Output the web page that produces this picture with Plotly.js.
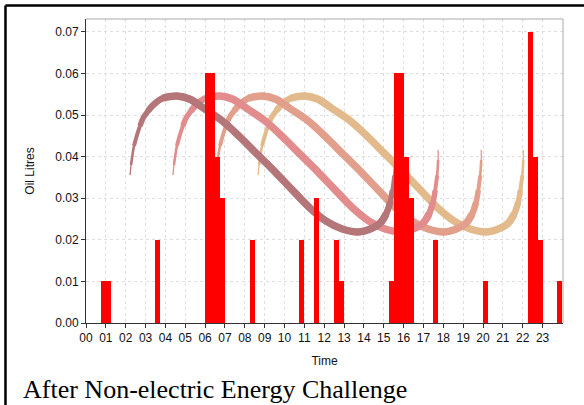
<!DOCTYPE html>
<html>
<head>
<meta charset="utf-8">
<script src="https://cdn.plot.ly/plotly-3.0.1.min.js"></script>
<style>
  html, body { margin: 0; padding: 0; background: #fff; }
  #chart { width: 584px; height: 405px; }
</style>
</head>
<body>
<div id="chart"></div>
<script>
// hour ticks along the bottom
var hourTicks = [0,1,2,3,4,5,6,7,8,9,10,11,12,13,14,15,16,17,18,19,20,21,22,23];
var hourLabels = ['00','01','02','03','04','05','06','07','08','09','10','11',
                  '12','13','14','15','16','17','18','19','20','21','22','23'];
var litreTicks = [0, 0.01, 0.02, 0.03, 0.04, 0.05, 0.06, 0.07];

// 15 minute bins: start hour and litres used
var binStart = [0.75, 1.0, 3.5, 6.0, 6.25, 6.5, 6.75, 8.25, 10.75, 11.5, 12.5, 12.75,
                15.25, 15.5, 15.75, 16.0, 16.25, 17.5, 20.0, 22.25, 22.5, 22.75, 23.75];
var oilLitres = [0.01, 0.01, 0.02, 0.06, 0.06, 0.04, 0.03, 0.02, 0.02, 0.03, 0.02, 0.01,
                 0.01, 0.06, 0.06, 0.04, 0.03, 0.02, 0.01, 0.07, 0.04, 0.02, 0.01];

// background swoosh: one shape (hours from its start, litres), repeated four times
var swooshHours = [0, 0.05, 0.10, 0.20, 0.35, 0.50, 0.66, 0.91, 1.16, 1.66, 2.37, 3.02,
                   3.78, 4.64, 5.54, 6.40, 7.31, 8.17, 9.07, 9.88, 10.69, 11.49, 12.20,
                   12.60, 12.90, 13.10, 13.21, 13.31, 13.36, 13.36];
var swooshLitres = [0.0356, 0.0380, 0.0397, 0.0426, 0.0452, 0.0474, 0.0493, 0.0510, 0.0524,
                    0.0541, 0.0546, 0.0538, 0.0514, 0.0486, 0.0447, 0.0406, 0.0363, 0.0320,
                    0.0276, 0.0245, 0.0226, 0.0219, 0.0228, 0.0240, 0.0262, 0.0290, 0.0319,
                    0.0355, 0.0392, 0.0416];
var swooshStart = [8.67, 6.55, 4.38, 2.22];
var swooshColor = ['rgb(227,186,140)', 'rgb(226,160,140)', 'rgb(226,140,142)', 'rgb(181,118,121)'];

// taper: [points cut from the start, points cut from the end, line width]
var taper = [[0, 0, 1.3], [1, 1, 2.6], [3, 2, 4], [5, 3, 5.5], [7, 4, 6.5], [9, 5, 7.5]];

var traces = [];
swooshStart.forEach(function (s, k) {
    taper.forEach(function (t) {
        var n = swooshHours.length;
        var xs = swooshHours.slice(t[0], n - t[1]).map(function (h) { return h + s; });
        traces.push({
            x: xs,
            y: swooshLitres.slice(t[0], n - t[1]),
            type: 'scatter',
            mode: 'lines',
            line: {color: swooshColor[k], width: t[2], shape: 'spline', smoothing: 1},
            hoverinfo: 'skip',
            xaxis: 'x', yaxis: 'y'
        });
    });
});

traces.push({
    x: binStart,
    y: oilLitres,
    type: 'bar',
    width: 0.25,
    offset: 0,
    marker: {color: '#ff0000', line: {width: 0}},
    xaxis: 'x2', yaxis: 'y2'
});

var tickFont = {family: 'Liberation Sans, Arial, sans-serif', size: 12, color: '#111'};
var xr = [0, 24.03], yr = [0, 0.0731];

var layout = {
    width: 584, height: 405,
    margin: {l: 86, r: 21, t: 19, b: 82},
    paper_bgcolor: '#fff', plot_bgcolor: '#fff',
    showlegend: false,
    bargap: 0,
    xaxis: {
        range: xr, tickvals: hourTicks, ticktext: hourLabels,
        ticks: 'outside', ticklen: 4, tickcolor: '#333',
        showline: true, linecolor: '#333', linewidth: 1,
        showgrid: true, gridcolor: '#dedede', griddash: 'dot', gridwidth: 1,
        zeroline: false, tickfont: tickFont, fixedrange: true,
        title: {text: 'Time', font: {family: 'Liberation Sans, Arial, sans-serif', size: 12, color: '#111'}, standoff: 12}
    },
    yaxis: {
        range: yr, tickvals: litreTicks, tickformat: '.2f',
        ticks: 'outside', ticklen: 4, tickcolor: '#333',
        showline: true, linecolor: '#333', linewidth: 1,
        showgrid: true, gridcolor: '#dedede', griddash: 'dot', gridwidth: 1,
        zeroline: false, tickfont: tickFont, fixedrange: true,
        title: {text: 'Oil Litres', font: {family: 'Liberation Sans, Arial, sans-serif', size: 12, color: '#111'}, standoff: 18}
    },
    xaxis2: {range: xr, overlaying: 'x', visible: false, fixedrange: true},
    yaxis2: {range: yr, overlaying: 'y', visible: false, fixedrange: true},
    shapes: [
        // light plot frame, top and right
        {type: 'line', xref: 'paper', yref: 'paper', x0: 0, x1: 1, y0: 1, y1: 1,
         line: {color: '#aaa', width: 1}},
        {type: 'line', xref: 'paper', yref: 'paper', x0: 1, x1: 1, y0: 0, y1: 1,
         line: {color: '#aaa', width: 1}},
        // outer figure box
        {type: 'line', xref: 'paper', yref: 'paper', x0: -0.1688, x1: 1.05, y0: 1.0444, y1: 1.0444,
         line: {color: '#000', width: 2.5}},
        {type: 'line', xref: 'paper', yref: 'paper', x0: -0.1688, x1: -0.1688, y0: 1.0444, y1: -0.3,
         line: {color: '#000', width: 2.5}}
    ],
    annotations: [{
        text: 'After Non-electric Energy Challenge',
        xref: 'paper', yref: 'paper', x: -0.137, y: -0.218,
        xanchor: 'left', yanchor: 'middle', showarrow: false,
        font: {family: 'Liberation Serif, Times New Roman, serif', size: 26, color: '#000'}
    }]
};

Plotly.newPlot(document.getElementById('chart'), traces, layout, {displayModeBar: false, staticPlot: true});
</script>
</body>
</html>
